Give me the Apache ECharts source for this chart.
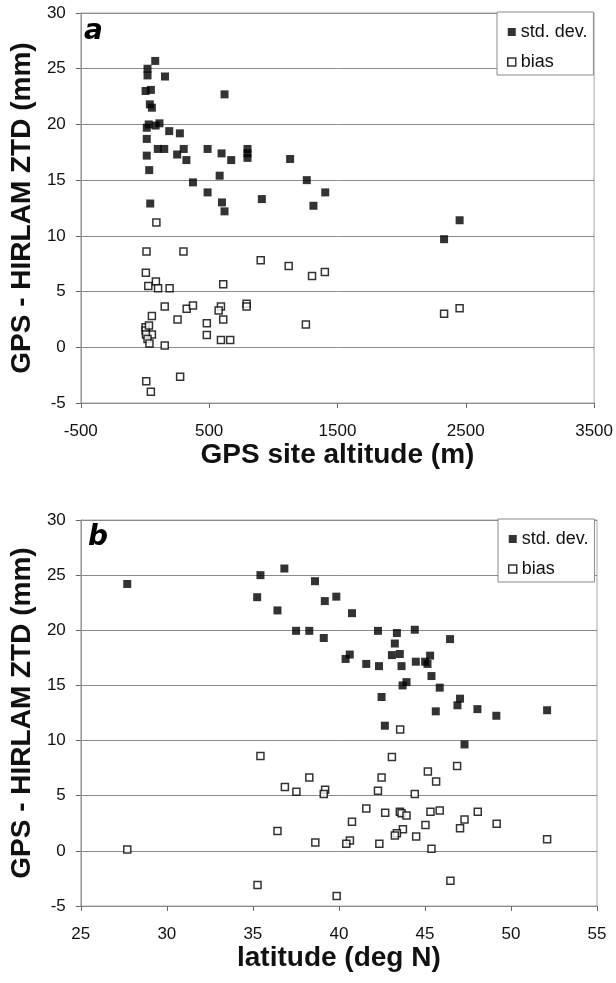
<!DOCTYPE html>
<html>
<head>
<meta charset="utf-8">
<script src="https://cdn.jsdelivr.net/npm/echarts@6/dist/echarts.min.js"></script>
<style>
  html, body { margin: 0; padding: 0; background: #fff; }
  #chart { width: 616px; height: 983px; }
</style>
</head>
<body>
<div id="chart"></div>
<script>
// ---- Panel a: vs GPS site altitude (m) ----
const altStdA = [80, 20, 20, 156, 5, 46, 620, 38, 54, 14, 29, 83, 113, 14, 189, 272, 100, 150, 302, 488, 14, 251, 597, 799, 799, 799, 323, 672, 1131, 33, 374, 582, 1261, 488, 1405, 911, 41, 600, 620, 1313, 2331, 2452];
const stdA    = [25.7, 25.0, 24.4, 24.3, 23.0, 23.1, 22.7, 21.8, 21.5, 19.7, 20.0, 19.9, 20.1, 18.7, 19.4, 19.2, 17.8, 17.8, 17.8, 17.8, 17.2, 17.3, 17.4, 17.8, 17.4, 17.0, 16.8, 16.8, 16.9, 15.9, 14.8, 15.4, 15.0, 13.9, 13.9, 13.3, 12.9, 13.0, 12.2, 12.7, 9.7, 11.4];
const altBiasA = [89, 12, 300, 7, 85, 26, 102, 192, 610, 902, 1120, 1302, 1402, 154, 325, 374, 592, 574, 792, 792, 54, 254, 610, 1254, 482, 5, 5, 31, 54, 8, 20, 35, 482, 592, 664, 154, 10, 274, 46, 2331, 2452];
const biasA    = [11.2, 8.6, 8.6, 6.7, 5.9, 5.5, 5.3, 5.3, 5.65, 7.8, 7.3, 6.4, 6.75, 3.65, 3.45, 3.75, 3.65, 3.3, 3.9, 3.65, 2.8, 2.5, 2.5, 2.05, 2.15, 1.8, 1.5, 1.95, 1.15, 1.15, 0.75, 0.35, 1.1, 0.65, 0.65, 0.15, -3.05, -2.65, -4.0, 3.0, 3.5];

// ---- Panel b: vs latitude (deg N) ----
const latStdB = [27.7, 35.44, 36.83, 35.25, 36.43, 38.61, 39.18, 39.85, 40.76, 37.51, 38.28, 39.12, 42.27, 43.37, 44.41, 46.46, 43.25, 43.08, 43.54, 40.63, 40.39, 41.59, 42.33, 43.64, 44.47, 45.01, 45.15, 45.3, 45.38, 43.93, 43.7, 45.86, 42.48, 47.04, 46.89, 45.63, 48.05, 49.15, 42.67, 52.1, 47.3];
const stdB    = [24.2, 25.0, 25.6, 23.0, 21.8, 24.45, 22.65, 23.05, 21.55, 19.95, 19.95, 19.3, 19.95, 19.75, 20.05, 19.2, 18.8, 17.75, 17.85, 17.8, 17.4, 16.95, 16.75, 16.75, 17.15, 17.15, 16.95, 17.7, 15.85, 15.3, 15.0, 14.8, 13.95, 13.8, 13.2, 12.65, 12.85, 12.25, 11.35, 12.75, 9.65];
const latBiasB = [27.7, 43.56, 35.44, 43.08, 46.87, 45.17, 45.65, 38.28, 42.48, 36.86, 37.53, 39.2, 39.12, 42.27, 44.41, 41.59, 42.69, 43.54, 43.64, 43.93, 45.32, 45.86, 48.07, 49.17, 40.76, 47.3, 45.03, 47.04, 36.43, 43.72, 43.37, 43.25, 44.49, 38.63, 40.64, 40.43, 42.35, 45.38, 52.1, 35.27, 39.87, 46.48];
const biasB    = [0.13, 11.0, 8.6, 8.5, 7.7, 7.2, 6.3, 6.65, 6.65, 5.8, 5.35, 5.55, 5.15, 5.45, 5.15, 3.85, 3.45, 3.55, 3.4, 3.2, 3.55, 3.65, 3.55, 2.45, 2.65, 2.85, 2.35, 2.05, 1.8, 1.95, 1.6, 1.4, 1.3, 0.75, 0.95, 0.65, 0.65, 0.2, 1.05, -3.1, -4.1, -2.7];

// ---- Axis ticks / labels ----
const xTicksA = [-500, 500, 1500, 2500, 3500];
const xTicksB = [25, 30, 35, 40, 45, 50, 55];
const yTicks  = [-5, 0, 5, 10, 15, 20, 25, 30];
const seriesNames = ['std. dev.', 'bias'];
const yTitle = 'GPS - HIRLAM ZTD (mm)';
const xTitleA = 'GPS site altitude (m)';
const xTitleB = 'latitude (deg N)';

const zip = (xs, ys) => xs.map((x, i) => [x, ys[i]]);
const FONT = "'Liberation Sans', Arial, sans-serif";

const stdStyle = { color: '#000', borderColor: '#000', borderWidth: 0 };
const biasStyle = { color: '#fff', borderColor: '#000', borderWidth: 1.5 };

function yAxis(gridIndex) {
  return {
    type: 'value', gridIndex, min: yTicks[0], max: yTicks[yTicks.length - 1], interval: 5,
    name: yTitle, nameLocation: 'middle', nameGap: 33, nameRotate: 90,
    nameTextStyle: { fontFamily: FONT, fontSize: 28, fontWeight: 'bold', color: '#111' },
    axisLine: { show: true, onZero: false, lineStyle: { color: '#9a9a9a', width: 1 } },
    axisTick: { show: true, length: 5, lineStyle: { color: '#666' } },
    axisLabel: { fontFamily: FONT, fontSize: 17, color: '#111', margin: 15 },
    splitLine: { show: true, lineStyle: { color: '#8c8c8c', width: 1 } }
  };
}

function xAxis(gridIndex, ticks, title) {
  return {
    type: 'value', gridIndex, min: ticks[0], max: ticks[ticks.length - 1],
    interval: ticks[1] - ticks[0],
    name: title, nameLocation: 'middle', nameGap: 34,
    nameTextStyle: { fontFamily: FONT, fontSize: 28, fontWeight: 'bold', color: '#111' },
    axisLine: { show: true, onZero: false, lineStyle: { color: '#8c8c8c', width: 1 } },
    axisTick: { show: true, length: 5, customValues: ticks, lineStyle: { color: '#666' } },
    axisLabel: { fontFamily: FONT, fontSize: 17, color: '#111', margin: 20, customValues: ticks,
                 formatter: (v) => String(v) },
    splitLine: { show: false }
  };
}

function legend(left, top) {
  return {
    data: [
      { name: seriesNames[0], icon: 'rect', itemStyle: stdStyle },
      { name: seriesNames[1], icon: 'rect', itemStyle: biasStyle }
    ],
    orient: 'vertical', left, top,
    itemWidth: 8, itemHeight: 8, itemGap: 12,
    padding: [11, 6, 4, 10],
    backgroundColor: '#fff', borderColor: '#8a8a8a', borderWidth: 1, borderRadius: 0,
    textStyle: { fontFamily: FONT, fontSize: 18, color: '#111' },
    selectedMode: false
  };
}

const chart = echarts.init(document.getElementById('chart'), null, { renderer: 'canvas' });
chart.setOption({
  backgroundColor: '#fff',
  animation: false,
  grid: [
    { left: 76, top: 13, width: 520, height: 390, show: true, borderColor: '#a8a8a8', borderWidth: 1, backgroundColor: 'transparent' },
    { left: 79, top: 520, width: 518, height: 386, show: true, borderColor: '#a8a8a8', borderWidth: 1, backgroundColor: 'transparent' }
  ],
  xAxis: [xAxis(0, xTicksA, xTitleA), xAxis(1, xTicksB, xTitleB)],
  yAxis: [yAxis(0), yAxis(1)],
  legend: [legend(497, 12), legend(498, 519)],
  graphic: [
    { type: 'text', left: 84, top: 18, style: { text: 'a', font: "italic bold 28px 'DejaVu Sans', sans-serif", fill: '#000' } },
    { type: 'text', left: 88, top: 524, style: { text: 'b', font: "italic bold 28px 'DejaVu Sans', sans-serif", fill: '#000' } }
  ],
  series: [
    { name: seriesNames[0], type: 'scatter', xAxisIndex: 0, yAxisIndex: 0, symbol: 'rect', symbolSize: 8, itemStyle: stdStyle, data: zip(altStdA, stdA) },
    { name: seriesNames[1], type: 'scatter', xAxisIndex: 0, yAxisIndex: 0, symbol: 'rect', symbolSize: 7, itemStyle: biasStyle, data: zip(altBiasA, biasA) },
    { name: seriesNames[0], type: 'scatter', xAxisIndex: 1, yAxisIndex: 1, symbol: 'rect', symbolSize: 8, itemStyle: stdStyle, data: zip(latStdB, stdB) },
    { name: seriesNames[1], type: 'scatter', xAxisIndex: 1, yAxisIndex: 1, symbol: 'rect', symbolSize: 7, itemStyle: biasStyle, data: zip(latBiasB, biasB) }
  ]
});
</script>
</body>
</html>
